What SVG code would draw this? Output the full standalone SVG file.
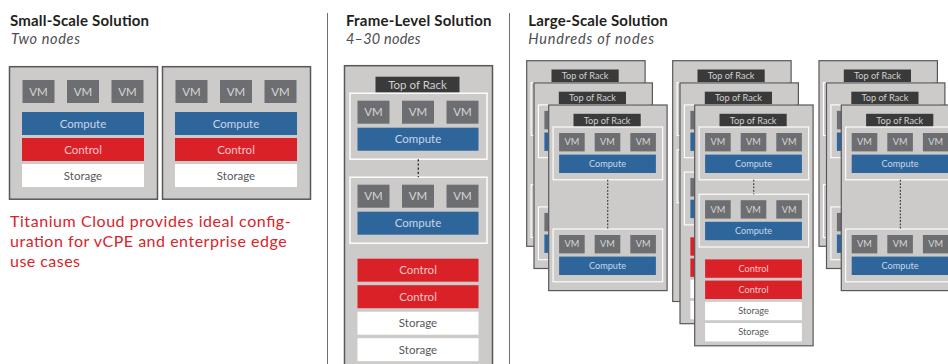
<svg xmlns="http://www.w3.org/2000/svg" xmlns:xlink="http://www.w3.org/1999/xlink" width="948" height="364" viewBox="0 0 948 364">
  <style>
    text { font-family: Lato, "Open Sans", "Liberation Sans", sans-serif; }
    .title { font-size: 15px; font-weight: bold; fill: #231f20; }
    .sub { font-size: 14.5px; font-style: italic; fill: #4d4d4f; }
    .note { font-size: 16px; fill: #d9232a; }
    .box { fill: #cccbc9; stroke: #58585a; stroke-width: 1.5; }
    .frame { fill: none; stroke: #ffffff; stroke-width: 1.4; }
    .vm { fill: #6d6e71; }
    .tor { fill: #3a3a3a; }
    .compute { fill: #2e659b; }
    .control { fill: #da2128; }
    .storage { fill: #ffffff; }
    .lbl { font-size: 11.5px; text-anchor: middle; }
    .l-vm { fill: #d6d6d6; }
    .l-tor { fill: #d0d0d0; }
    .l-compute { fill: #c6d6ea; }
    .l-control { fill: #f6c6c6; }
    .l-storage { fill: #58585a; }
    .dots { stroke: #2b2b2b; stroke-width: 1.3; stroke-dasharray: 2.2 2; fill: none; }
    .sep { stroke: #6d6e71; stroke-width: 1; }
  </style>
  <defs>
    <!-- a row of three VMs, 32x23 each -->
    <g id="vm-row">
      <rect class="vm" x="13" y="0" width="32" height="23"/>
      <rect class="vm" x="57.5" y="0" width="32" height="23"/>
      <rect class="vm" x="102" y="0" width="32" height="23"/>
      <text class="lbl l-vm" x="29" y="15.5">VM</text>
      <text class="lbl l-vm" x="73.5" y="15.5">VM</text>
      <text class="lbl l-vm" x="118" y="15.5">VM</text>
    </g>
    <!-- compute host: VM row plus compute bar inside a white frame -->
    <g id="compute-host">
      <rect class="frame" x="5.5" y="0" width="137" height="66"/>
      <use xlink:href="#vm-row" y="7.5"/>
      <rect class="compute" x="13" y="34.5" width="121" height="23"/>
      <text class="lbl l-compute" x="73.5" y="50">Compute</text>
    </g>
    <!-- rack with compute hosts, controllers and storage -->
    <g id="rack-full">
      <rect class="box" x="0" y="0" width="148" height="301"/>
      <rect class="tor" x="31" y="11" width="84" height="16"/>
      <text class="lbl l-tor" x="73" y="23.2">Top of Rack</text>
      <use xlink:href="#compute-host" y="27.5"/>
      <use xlink:href="#compute-host" y="111.5"/>
      <rect class="control" x="13" y="193" width="121" height="23"/>
      <text class="lbl l-control" x="73.5" y="208.5">Control</text>
      <rect class="control" x="13" y="219.5" width="121" height="23"/>
      <text class="lbl l-control" x="73.5" y="235">Control</text>
      <rect class="storage" x="13" y="246" width="121" height="23"/>
      <text class="lbl l-storage" x="73.5" y="261.5">Storage</text>
      <rect class="storage" x="13" y="272.5" width="121" height="23"/>
      <text class="lbl l-storage" x="73.5" y="288">Storage</text>
      <g class="links">
        <line class="dots" x1="73.8" y1="93.5" x2="73.8" y2="111.5"/>
      </g>
    </g>
    <!-- rack with compute hosts only -->
    <g id="rack-compute">
      <rect class="box" x="0" y="0" width="148" height="232"/>
      <rect class="tor" x="31" y="11" width="84" height="16"/>
      <text class="lbl l-tor" x="73" y="23.2">Top of Rack</text>
      <use xlink:href="#compute-host" y="27.5"/>
      <use xlink:href="#compute-host" y="155"/>
      <g class="links">
        <line class="dots" x1="73.8" y1="93.5" x2="73.8" y2="155"/>
      </g>
    </g>
    <!-- standalone node: VMs, compute, control, storage -->
    <g id="node-small">
      <rect class="box" x="0" y="0" width="148" height="132.5"/>
      <use xlink:href="#vm-row" y="13.3"/>
      <rect class="compute" x="12.5" y="45.3" width="122" height="23"/>
      <text class="lbl l-compute" x="73.5" y="61">Compute</text>
      <rect class="control" x="12.5" y="71.3" width="122" height="23"/>
      <text class="lbl l-control" x="73.5" y="87">Control</text>
      <rect class="storage" x="12.5" y="97.3" width="122" height="23"/>
      <text class="lbl l-storage" x="73.5" y="113">Storage</text>
    </g>
  </defs>

  <!-- column separators -->
  <line class="sep" x1="327.5" y1="13" x2="327.5" y2="364"/>
  <line class="sep" x1="509.5" y1="13" x2="509.5" y2="364"/>

  <!-- headings -->
  <text class="title" x="10" y="26" textLength="139">Small-Scale Solution</text>
  <text class="sub" x="11" y="44" textLength="69">Two nodes</text>
  <text class="title" x="346" y="26" textLength="145.5">Frame-Level Solution</text>
  <text class="sub" x="346" y="44" textLength="74.5">4–30 nodes</text>
  <text class="title" x="528.3" y="26" textLength="139.4">Large-Scale Solution</text>
  <text class="sub" x="528.3" y="44" textLength="125.7">Hundreds of nodes</text>

  <!-- small scale: two nodes -->
  <g id="small-node-1" transform="translate(9.5,66.7)"><use xlink:href="#node-small"/></g>
  <g id="small-node-2" transform="translate(162.5,66.7)"><use xlink:href="#node-small"/></g>

  <text class="note" x="10" y="227.3" textLength="280.7">Titanium Cloud provides ideal config-</text>
  <text class="note" x="10" y="247" textLength="276.7">uration for vCPE and enterprise edge</text>
  <text class="note" x="10" y="266.7" textLength="70">use cases</text>

  <!-- frame level: one rack -->
  <g id="frame-rack" transform="translate(344.5,65.7)"><use xlink:href="#rack-full"/></g>

  <!-- large scale: three stacks of racks -->
  <g id="stack-1">
    <g id="stack-1-rack-a" transform="translate(526.7,60.7) scale(0.8)"><use xlink:href="#rack-compute"/></g>
    <g id="stack-1-rack-b" transform="translate(534,82.9) scale(0.8)"><use xlink:href="#rack-compute"/></g>
    <g id="stack-1-rack-c" transform="translate(548.7,105) scale(0.8)"><use xlink:href="#rack-compute"/></g>
  </g>
  <g id="stack-2">
    <g id="stack-2-rack-a" transform="translate(672.7,60.7) scale(0.8)"><use xlink:href="#rack-full"/></g>
    <g id="stack-2-rack-b" transform="translate(680,82.9) scale(0.8)"><use xlink:href="#rack-full"/></g>
    <g id="stack-2-rack-c" transform="translate(694.7,105) scale(0.8)"><use xlink:href="#rack-full"/></g>
  </g>
  <g id="stack-3">
    <g id="stack-3-rack-a" transform="translate(819,60.7) scale(0.8)"><use xlink:href="#rack-compute"/></g>
    <g id="stack-3-rack-b" transform="translate(826.5,82.9) scale(0.8)"><use xlink:href="#rack-compute"/></g>
    <g id="stack-3-rack-c" transform="translate(841.3,105) scale(0.8)"><use xlink:href="#rack-compute"/></g>
  </g>
</svg>
